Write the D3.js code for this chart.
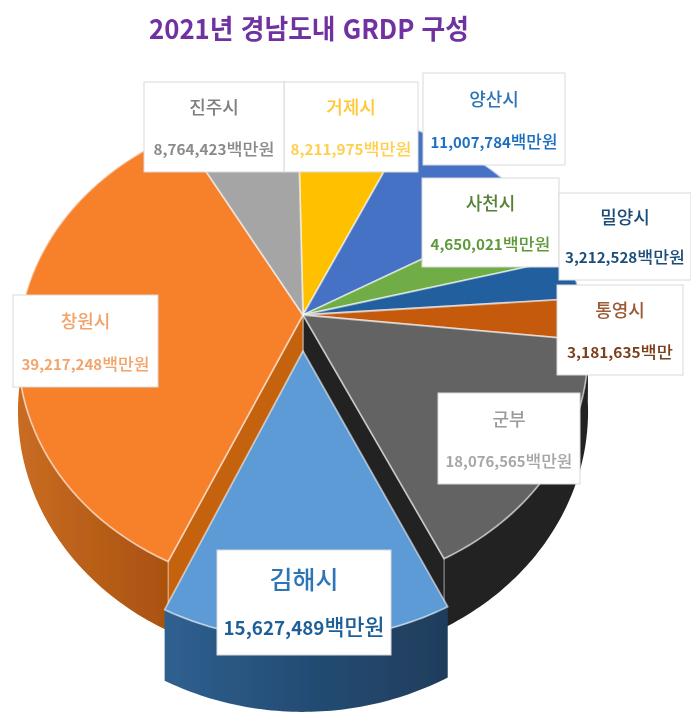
<!DOCTYPE html>
<html lang="ko">
<head>
<meta charset="utf-8">
<title>2021년 경남도내 GRDP 구성</title>
<script src="https://cdn.jsdelivr.net/npm/d3@7"></script>
<style>
  html, body { margin: 0; padding: 0; background: #fff; }
  svg { display: block; font-family: "Noto Sans CJK KR", "Noto Sans", sans-serif; }
  .blurry { filter: url(#soft); }
</style>
</head>
<body>
<svg id="chart" width="691" height="714"></svg>
<script>
const titleText = '2021년 경남도내 GRDP 구성';

// clockwise from the top of the pie
const cities = ['거제시', '양산시', '사천시', '밀양시', '통영시', '군부', '김해시', '창원시', '진주시'];
const grdpValues = [8211975, 11007784, 4650021, 3212528, 3181635, 18076565, 15627489, 39217248, 8764423];
const unitLabels = ['백만원', '백만원', '백만원', '백만원', '백만', '백만원', '백만원', '백만원', '백만원'];

const sliceColors = ['#ffc000', '#4472c4', '#70ad47', '#235f9e', '#c55a11', '#636363', '#5b9bd5', '#f7812c', '#a5a5a5'];
const wallColors = ['#b38600', '#2f5597', '#4e7a30', '#183f6b', '#843c0c', '#242424', 'url(#wallBlue)', 'url(#wallOrange)', '#6f6f6f'];
const nameColors = ['#ffc733', '#2e75b6', '#548235', '#1f4e79', '#9c5a36', '#9a9a9a', '#2e75b6', '#f2a26b', '#7f7f7f'];
const valueColors = ['#ffcf4d', '#1f70c0', '#5f9a38', '#1f4e79', '#7b3f1c', '#a6a6a6', '#1f5f99', '#f4a46a', '#8a8a8a'];

// label boxes: x, y, width, height
const labelBoxes = [
  [284, 82, 134, 90], [423, 73, 142, 92], [422, 178, 137, 89],
  [559, 193, 132, 87], [557, 285, 126, 90], [438, 393, 142, 91],
  [217, 550, 174, 105], [13, 295, 145, 92], [144, 82, 140, 90]
];
const nameSizes = [18, 18, 18, 18, 18, 18, 25, 18, 18];
const numberSizes = [14, 15, 14, 14, 14, 14, 19, 14, 14];
const unitSizes = [16, 17, 16, 16, 16, 16, 22, 16, 16];
const valueWidths = [121, 127, 120, 120, 106, 127, 161, 128, 121];

const width = 691;
const height = 714;
const deg = Math.PI / 180;

// pie model: unit circle seen in perspective, apex of the pie at (apexX, apexY)
const apexX = 303;
const apexY = 315;
const scaleX = 282;
const scaleY = 235;
const tilt = 0.146;
const depth = 60;
const gimhaeShift = 0.15;

const project = (angle, radius = 1, shift = 0, drop = 0) => {
  const X = radius * Math.sin(angle);
  const Y = -radius * Math.cos(angle) + shift;
  const w = 1 - tilt * Y;
  return [apexX + (scaleX * X) / w, apexY + (scaleY * Y) / w + drop / w];
};

const svg = d3.select('#chart');
const defs = svg.append('defs');

defs.append('filter').attr('id', 'soft')
  .append('feGaussianBlur').attr('stdDeviation', 0.55);

const addGradient = (id, stops) => {
  const gradient = defs.append('linearGradient').attr('id', id);
  stops.forEach(([offset, color]) => {
    gradient.append('stop').attr('offset', offset).attr('stop-color', color);
  });
};
addGradient('wallOrange', [['0%', '#c96c22'], ['55%', '#b55c17'], ['100%', '#a8500f']]);
addGradient('wallBlue', [['0%', '#2f6090'], ['50%', '#244c74'], ['100%', '#1f3d5c']]);

const pie = d3.pie().sort(null).value(d => d)
  .startAngle(-1.2 * deg)
  .endAngle(358.8 * deg);
const slices = pie(grdpValues).map((s, i) => ({ ...s, i, shift: cities[i] === '김해시' ? gimhaeShift : 0 }));

const line = d3.line();
const rimAngles = s => d3.range(0, 61).map(k => s.startAngle + ((s.endAngle - s.startAngle) * k) / 60);

const topPath = s => line([
  project(0, 0, s.shift),
  ...rimAngles(s).map(a => project(a, 1, s.shift))
]) + 'Z';

const wallPath = s => {
  const angles = rimAngles(s);
  return line([
    ...angles.map(a => project(a, 1, s.shift)),
    ...angles.slice().reverse().map(a => project(a, 1, s.shift, depth))
  ]) + 'Z';
};

const cutPath = (angle, shift) => line([
  project(0, 0, shift),
  project(angle, 1, shift),
  project(angle, 1, shift, depth),
  project(0, 0, shift, depth)
]) + 'Z';

const pieGroup = svg.append('g').attr('class', 'blurry');
const stillSlices = slices.filter(s => !s.shift);
const movedSlices = slices.filter(s => s.shift);

pieGroup.selectAll('path.wall')
  .data(stillSlices)
  .join('path')
  .attr('class', 'wall')
  .attr('d', wallPath)
  .attr('fill', d => wallColors[d.i]);

// the cut faces that show in the gap left by the pulled-out slice
const gimhae = movedSlices[0];
const cutFaces = [
  { angle: gimhae.startAngle, color: '#222222' },
  { angle: gimhae.endAngle, color: '#c4620f' }
];
pieGroup.selectAll('path.cut')
  .data(cutFaces)
  .join('path')
  .attr('class', 'cut')
  .attr('d', d => cutPath(d.angle, 0))
  .attr('fill', d => d.color)
  .attr('stroke', '#fff')
  .attr('stroke-opacity', 0.45)
  .attr('stroke-width', 1.2);

pieGroup.selectAll('path.top')
  .data(stillSlices)
  .join('path')
  .attr('class', 'top')
  .attr('d', topPath)
  .attr('fill', d => sliceColors[d.i])
  .attr('stroke', '#fff')
  .attr('stroke-opacity', 0.55)
  .attr('stroke-width', 1.8)
  .attr('stroke-linejoin', 'round');

pieGroup.selectAll('path.movedWall')
  .data(movedSlices)
  .join('path')
  .attr('class', 'movedWall')
  .attr('d', wallPath)
  .attr('fill', d => wallColors[d.i]);

pieGroup.selectAll('path.movedTop')
  .data(movedSlices)
  .join('path')
  .attr('class', 'movedTop')
  .attr('d', topPath)
  .attr('fill', d => sliceColors[d.i])
  .attr('stroke', '#fff')
  .attr('stroke-opacity', 0.55)
  .attr('stroke-width', 1.8)
  .attr('stroke-linejoin', 'round');

// labels
const labels = svg.selectAll('g.label')
  .data(cities)
  .join('g')
  .attr('class', 'label');

labels.append('rect')
  .attr('x', (d, i) => labelBoxes[i][0])
  .attr('y', (d, i) => labelBoxes[i][1])
  .attr('width', (d, i) => labelBoxes[i][2])
  .attr('height', (d, i) => labelBoxes[i][3])
  .attr('fill', '#fff')
  .attr('stroke', '#d9d9d9')
  .attr('stroke-width', 1);

labels.append('text')
  .attr('class', 'blurry')
  .attr('x', (d, i) => labelBoxes[i][0] + labelBoxes[i][2] / 2)
  .attr('y', (d, i) => labelBoxes[i][1] + labelBoxes[i][3] * 0.27)
  .attr('text-anchor', 'middle')
  .attr('dominant-baseline', 'central')
  .attr('font-size', (d, i) => nameSizes[i])
  .attr('font-weight', 500)
  .attr('fill', (d, i) => nameColors[i])
  .text(d => d);

const valueText = labels.append('text')
  .attr('class', 'blurry')
  .attr('x', (d, i) => labelBoxes[i][0] + labelBoxes[i][2] / 2)
  .attr('y', (d, i) => labelBoxes[i][1] + labelBoxes[i][3] * 0.81)
  .attr('text-anchor', 'middle')
  .attr('font-weight', 700)
  .attr('fill', (d, i) => valueColors[i])
  .attr('textLength', (d, i) => valueWidths[i])
  .attr('lengthAdjust', 'spacingAndGlyphs');

valueText.append('tspan')
  .attr('font-size', (d, i) => numberSizes[i])
  .text((d, i) => d3.format(',')(grdpValues[i]));

valueText.append('tspan')
  .attr('font-size', (d, i) => unitSizes[i])
  .attr('font-weight', 500)
  .text((d, i) => unitLabels[i]);

svg.append('text')
  .attr('class', 'blurry')
  .attr('x', 309)
  .attr('y', 39)
  .attr('text-anchor', 'middle')
  .attr('font-size', 27)
  .attr('font-weight', 700)
  .attr('fill', '#7030a0')
  .attr('textLength', 320)
  .attr('lengthAdjust', 'spacingAndGlyphs')
  .text(titleText);
</script>
</body>
</html>
